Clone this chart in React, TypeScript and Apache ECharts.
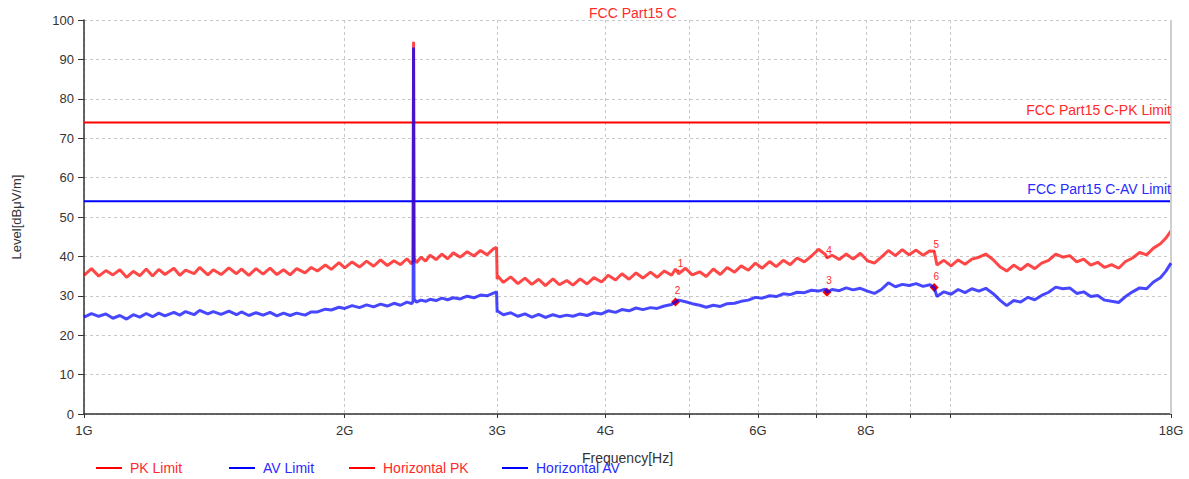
import React, { useEffect, useRef } from "react";
import * as echarts from "echarts";

const titleText = "FCC Part15 C";
const xAxisName = "Frequency[Hz]";
const yAxisName = "Level[dBμV/m]";

const xLabelValues = [1, 2, 3, 4, 6, 8, 18];
const xTickValues = [1, 2, 3, 4, 5, 6, 7, 8, 9, 10, 18];
const yTickLabels = [0, 10, 20, 30, 40, 50, 60, 70, 80, 90, 100];

const limitFreq = [1, 18];
const pkLimit = [74, 74];
const avLimit = [54, 54];
const pkLimitLabel = "FCC Part15 C-PK Limit";
const avLimitLabel = "FCC Part15 C-AV Limit";

// sweep frequencies in GHz
const freqGHz = [
  1.00, 1.02, 1.04, 1.06, 1.08, 1.10, 1.12, 1.14, 1.16, 1.18,
  1.20, 1.22, 1.24, 1.27, 1.29, 1.31, 1.34, 1.36, 1.39, 1.41,
  1.44, 1.47, 1.50, 1.52, 1.55, 1.58, 1.61, 1.64, 1.67, 1.70,
  1.73, 1.76, 1.80, 1.83, 1.86, 1.90, 1.93, 1.97, 2.00, 2.04,
  2.08, 2.12, 2.16, 2.20, 2.24, 2.28, 2.32, 2.36, 2.39, 2.399,
  2.402, 2.405, 2.42, 2.45, 2.48, 2.51, 2.55, 2.59, 2.63, 2.67,
  2.72, 2.77, 2.82, 2.87, 2.92, 2.97, 2.995, 3.00, 3.005, 3.05,
  3.11, 3.17, 3.23, 3.29, 3.35, 3.41, 3.48, 3.54, 3.61, 3.67,
  3.74, 3.81, 3.88, 3.96, 4.03, 4.11, 4.18, 4.26, 4.34, 4.42,
  4.51, 4.59, 4.68, 4.77, 4.82, 4.86, 4.95, 5.04, 5.14, 5.23,
  5.33, 5.43, 5.53, 5.64, 5.74, 5.85, 5.96, 6.07, 6.19, 6.30,
  6.42, 6.54, 6.66, 6.79, 6.92, 7.05, 7.18, 7.21, 7.31, 7.45,
  7.59, 7.73, 7.88, 8.03, 8.18, 8.33, 8.49, 8.65, 8.81, 8.97,
  9.14, 9.31, 9.48, 9.59, 9.66, 9.84, 10.03, 10.22, 10.41, 10.60,
  10.80, 11.00, 11.21, 11.42, 11.63, 11.85, 12.07, 12.30, 12.53, 12.76,
  13.00, 13.25, 13.50, 13.75, 14.01, 14.27, 14.54, 14.81, 15.09, 15.37,
  15.66, 15.95, 16.25, 16.56, 16.87, 17.18, 17.50, 17.75, 18.00,
];

const horizontalPK = [
  35.2, 36.9, 35.0, 36.4, 35.3, 36.6, 34.7, 36.2, 35.1, 36.8,
  35.0, 36.7, 35.4, 37.0, 35.2, 36.5, 35.6, 37.2, 35.3, 36.6,
  35.4, 37.1, 35.6, 36.8, 35.2, 36.9, 35.5, 37.0, 35.4, 36.6,
  35.3, 36.9, 35.8, 37.2, 36.3, 37.8, 36.7, 38.4, 37.1, 38.6,
  37.3, 38.8, 37.5, 39.1, 37.7, 38.9, 37.9, 39.4, 38.1, 39.0,
  94.5, 39.6, 38.4, 39.8, 38.8, 40.3, 39.2, 40.6, 39.4, 40.9,
  39.8, 41.2, 40.1, 41.5, 40.4, 41.9, 42.3, 34.2, 35.0, 33.4,
  34.8, 33.1, 34.5, 32.9, 34.2, 32.6, 34.3, 32.8, 33.9, 32.7,
  34.3, 33.0, 34.6, 33.5, 35.2, 34.0, 35.6, 34.2, 35.8, 34.5,
  36.0, 34.7, 36.3, 35.2, 36.8, 35.6, 37.0, 35.3, 36.1, 34.9,
  36.8, 35.4, 37.2, 36.0, 37.6, 36.5, 38.3, 37.0, 38.7, 37.4,
  39.0, 37.9, 39.6, 38.6, 40.1, 41.8, 40.5, 39.6, 40.3, 39.2,
  40.6, 39.3, 40.8, 38.9, 38.3, 39.8, 41.5, 40.2, 41.7, 40.4,
  41.6, 40.3, 41.4, 41.3, 37.8, 39.0, 37.6, 39.1, 38.0, 39.3,
  39.8, 40.6, 39.2, 37.4, 36.3, 37.8, 36.6, 38.0, 36.9, 38.3,
  39.0, 40.6, 39.8, 40.2, 38.6, 39.3, 37.8, 38.5, 37.2, 37.9,
  37.0, 38.7, 39.6, 41.0, 40.4, 42.1, 43.2, 44.6, 46.5,
];

const horizontalAV = [
  24.6, 25.5, 24.8, 25.4, 24.3, 25.0, 24.1, 25.2, 24.6, 25.5,
  24.7, 25.6, 24.9, 25.8, 25.1, 26.0, 25.2, 26.3, 25.4, 26.0,
  25.3, 26.1, 25.2, 25.9, 25.0, 25.7, 25.1, 25.8, 24.9, 25.6,
  25.0, 25.6, 25.1, 25.9, 25.9, 26.6, 26.4, 27.1, 26.8, 27.5,
  27.0, 27.7, 27.2, 27.9, 27.4, 28.1, 27.6, 28.4, 28.0, 28.6,
  93.0, 29.3, 28.4, 28.9, 28.6, 29.1, 28.8, 29.4, 29.0, 29.5,
  29.2, 29.9, 29.5, 30.2, 30.0, 30.7, 31.0, 25.8, 26.1, 25.2,
  25.7, 24.8, 25.4, 24.6, 25.3, 24.5, 25.2, 24.7, 25.1, 24.8,
  25.4, 25.0, 25.7, 25.4, 26.2, 25.8, 26.5, 26.2, 26.9, 26.5,
  27.0, 26.8, 27.4, 27.8, 28.4, 28.9, 28.5, 28.0, 27.6, 27.1,
  27.6, 27.3, 28.0, 28.1, 28.6, 28.9, 29.6, 29.4, 30.0, 29.8,
  30.5, 30.3, 30.9, 30.8, 31.4, 31.2, 31.7, 30.9, 31.6, 31.3,
  32.0, 31.5, 31.9, 31.2, 30.6, 31.6, 33.3, 32.3, 32.9, 32.6,
  33.1, 32.4, 32.8, 32.1, 29.8, 31.0, 30.4, 31.6, 30.8, 31.8,
  31.2, 31.9, 30.6, 28.9, 27.5, 28.8, 28.4, 29.6, 29.0, 30.1,
  30.9, 32.2, 31.8, 32.0, 30.6, 31.0, 29.8, 30.1, 28.9, 28.6,
  28.3, 29.8, 31.0, 32.0, 31.8, 33.5, 34.6, 36.2, 38.3,
];

// markers: PK markers 1,4,5 ; AV markers 2,3,6
const pkMarkerIds = ["1", "4", "5"];
const pkMarkerFreq = [4.86, 7.21, 9.59];
const pkMarkerLevel = [36.4, 39.8, 41.3];
const avMarkerIds = ["2", "3", "6"];
const avMarkerFreq = [4.82, 7.21, 9.59];
const avMarkerLevel = [28.4, 30.9, 32.1];

const legendNames = ["PK Limit", "AV Limit", "Horizontal PK", "Horizontal AV"];
const legendLeft = [96, 229, 349, 502];

const RED = "#ff0000";
const BLUE = "#0000ff";
const RED_TEXT = "#ff2a2a";
const BLUE_TEXT = "#2a2aff";
const FONT = "'Liberation Sans', Arial, sans-serif";

export default function App() {
  const ref = useRef<HTMLDivElement>(null);

  useEffect(() => {
    document.body.style.margin = "0";
    if (!ref.current) return;
    const chart = echarts.init(ref.current, null, { renderer: "svg" });

    const pair = (xs: number[], ys: number[]) => xs.map((x, i) => [x, ys[i]]);
    const markerData = (ids: string[], fs: number[], ls: number[]) =>
      ids.map((id, i) => ({ name: id, coord: [fs[i], ls[i]], value: id }));

    const legendColors = [RED_TEXT, BLUE_TEXT, RED_TEXT, BLUE_TEXT];
    const legendIconColors = [RED, BLUE, RED, BLUE];

    const option: any = {
      animation: false,
      textStyle: { fontFamily: FONT },
      title: {
        text: titleText,
        left: 628,
        top: 1,
        textAlign: "center",
        textStyle: { color: RED_TEXT, fontSize: 14, fontWeight: "normal", fontFamily: FONT },
      },
      legend: legendNames.map((n, i) => ({
        data: [n],
        left: legendLeft[i],
        top: 461,
        icon: "rect",
        itemWidth: 26,
        itemHeight: 2,
        itemGap: 0,
        padding: 0,
        itemStyle: { color: legendIconColors[i] },
        textStyle: { color: legendColors[i], fontSize: 14, fontFamily: FONT, padding: [0, 0, 0, 3] },
      })),
      grid: { left: 84, right: 18, top: 20, bottom: 65, containLabel: false },
      xAxis: {
        type: "log",
        logBase: 10,
        min: 1,
        max: 18,
        name: xAxisName,
        nameLocation: "middle",
        nameGap: 37,
        nameTextStyle: { color: "#333", fontSize: 14, fontFamily: FONT },
        axisLine: { show: true, lineStyle: { color: "#333", width: 1.5 } },
        axisTick: { show: true, length: 4, customValues: xTickValues, lineStyle: { color: "#333" } },
        axisLabel: {
          customValues: xLabelValues,
          formatter: (v: number) => `${Math.round(v)}G`,
          color: "#333",
          fontSize: 13,
          margin: 10,
          fontFamily: FONT,
        },
        splitLine: { show: true, lineStyle: { color: "#c8c8c8", type: [3, 3], width: 1 } },
        minorTick: { show: false },
        minorSplitLine: { show: false },
      },
      yAxis: {
        type: "value",
        min: yTickLabels[0],
        max: yTickLabels[yTickLabels.length - 1],
        interval: 10,
        name: yAxisName,
        nameLocation: "middle",
        nameGap: 61,
        nameTextStyle: { color: "#333", fontSize: 13, fontFamily: FONT },
        axisLine: { show: true, lineStyle: { color: "#333", width: 1.5 } },
        axisTick: { show: true, length: 6, lineStyle: { color: "#333" } },
        axisLabel: { color: "#333", fontSize: 13, margin: 10, fontFamily: FONT },
        splitLine: { show: true, lineStyle: { color: "#c8c8c8", type: [3, 3], width: 1 } },
      },
      series: [
        {
          name: "PK Limit",
          type: "line",
          symbol: "none",
          color: RED,
          lineStyle: { color: RED, width: 2 },
          data: pair(limitFreq, pkLimit),
          markLine: {
            silent: true,
            symbol: "none",
            data: [
              {
                yAxis: pkLimit[0],
                lineStyle: { color: "rgba(0,0,0,0)", width: 0 },
                label: {
                  show: true,
                  position: "insideEndTop",
                  formatter: pkLimitLabel,
                  color: RED_TEXT,
                  fontSize: 14,
                  fontFamily: FONT,
                  distance: [0, 5],
                },
              },
              {
                xAxis: limitFreq[1],
                lineStyle: { color: "#cfcfcf", type: "solid", width: 2 },
                label: { show: false },
              },
            ],
          },
          z: 3,
        },
        {
          name: "AV Limit",
          type: "line",
          symbol: "none",
          color: BLUE,
          lineStyle: { color: BLUE, width: 2 },
          data: pair(limitFreq, avLimit),
          markLine: {
            silent: true,
            symbol: "none",
            data: [
              {
                yAxis: avLimit[0],
                lineStyle: { color: "rgba(0,0,0,0)", width: 0 },
                label: {
                  show: true,
                  position: "insideEndTop",
                  formatter: avLimitLabel,
                  color: BLUE_TEXT,
                  fontSize: 14,
                  fontFamily: FONT,
                  distance: [0, 5],
                },
              },
            ],
          },
          z: 3,
        },
        {
          name: "Horizontal PK",
          type: "line",
          symbol: "none",
          color: RED,
          lineStyle: { color: RED, width: 3, opacity: 0.72 },
          data: pair(freqGHz, horizontalPK),
          markPoint: {
            symbol: "diamond",
            symbolSize: 2,
            itemStyle: { color: RED },
            label: {
              show: true,
              position: "top",
              offset: [2, 4],
              color: RED_TEXT,
              fontSize: 10,
              formatter: (p: any) => p.name,
            },
            data: markerData(pkMarkerIds, pkMarkerFreq, pkMarkerLevel),
          },
          z: 4,
        },
        {
          name: "Horizontal AV",
          type: "line",
          symbol: "none",
          color: BLUE,
          lineStyle: { color: BLUE, width: 3, opacity: 0.72 },
          data: pair(freqGHz, horizontalAV),
          markPoint: {
            symbol: "diamond",
            symbolSize: 9,
            itemStyle: { color: RED },
            label: {
              show: true,
              position: "top",
              offset: [2, 3],
              color: RED_TEXT,
              fontSize: 10,
              formatter: (p: any) => p.name,
            },
            data: markerData(avMarkerIds, avMarkerFreq, avMarkerLevel),
          },
          z: 5,
        },
      ],
    };

    chart.setOption(option);
    return () => chart.dispose();
  }, []);

  return <div ref={ref} style={{ width: 1189, height: 479 }} />;
}
